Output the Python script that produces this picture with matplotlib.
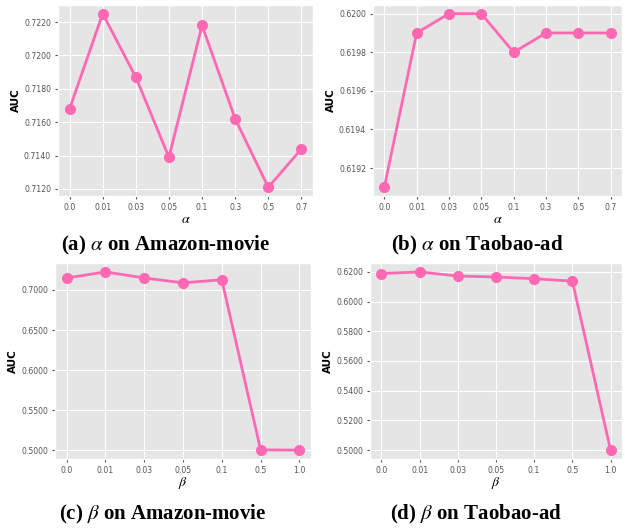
import matplotlib
matplotlib.use('Agg')
import matplotlib.pyplot as plt

plt.style.use('ggplot')
plt.rcParams['mathtext.fontset'] = 'stix'

# alpha sweep
alpha_labels = ['0.0', '0.01', '0.03', '0.05', '0.1', '0.3', '0.5', '0.7']
alpha_amazon = [0.7168, 0.7225, 0.7187, 0.7139, 0.7218, 0.7162, 0.7121, 0.7144]
alpha_taobao = [0.6191, 0.6199, 0.6200, 0.6200, 0.6198, 0.6199, 0.6199, 0.6199]

# beta sweep
beta_labels = ['0.0', '0.01', '0.03', '0.05', '0.1', '0.5', '1.0']
beta_amazon = [0.7150, 0.7226, 0.7150, 0.7090, 0.7128, 0.5003, 0.5000]
beta_taobao = [0.6189, 0.6200, 0.6172, 0.6166, 0.6154, 0.6138, 0.5000]

captions = [r'(a) $\alpha$ on Amazon-movie', r'(b) $\alpha$ on Taobao-ad',
            r'(c) $\beta$ on Amazon-movie', r'(d) $\beta$ on Taobao-ad']

color = '#ff69b4'

fig = plt.figure(figsize=(6.25, 5.29), dpi=100)
W, H = 625, 529
# axes boxes in pixels: left, top, right, bottom
boxes = [(58, 5, 313, 196), (373, 5, 622, 196),
         (55, 263, 311, 459), (370, 263, 622, 459)]
panels = [(alpha_labels, alpha_amazon, r'$\alpha$'),
          (alpha_labels, alpha_taobao, r'$\alpha$'),
          (beta_labels, beta_amazon, r'$\beta$'),
          (beta_labels, beta_taobao, r'$\beta$')]
cap_y = [245, 245, 514, 514]

for i, (box, (labels, vals, xl)) in enumerate(zip(boxes, panels)):
    l, t, r, b = box
    ax = fig.add_axes([l / W, 1 - b / H, (r - l) / W, (b - t) / H])
    x = range(len(labels))
    ax.plot(x, vals, color=color, linewidth=2, marker='o', markersize=7)
    ax.set_xticks(list(x))
    ax.set_xticklabels(labels)
    ax.tick_params(labelsize=5.6, colors='#555555', length=2, pad=3)
    ax.yaxis.set_major_formatter(matplotlib.ticker.FormatStrFormatter('%.4f'))
    ax.set_ylabel('AUC', fontsize=7.5, fontweight='bold', color='black', labelpad=2)
    ax.set_xlabel(xl, fontsize=10, color='black', labelpad=0)
    # caption sits a bit left of the axes centre
    fig.text(((l + r) / 2 - 20) / W, 1 - cap_y[i] / H, captions[i], ha='center', va='center',
             fontsize=15, fontweight='bold', family='Liberation Serif')

# explicit tick spacing as in the original panels
fig.axes[1].set_yticks([0.6192, 0.6194, 0.6196, 0.6198, 0.6200])
fig.axes[2].set_yticks([0.5, 0.55, 0.6, 0.65, 0.7])
fig.axes[3].set_yticks([0.5, 0.52, 0.54, 0.56, 0.58, 0.60, 0.62])

fig.savefig('out.png', dpi=100)
